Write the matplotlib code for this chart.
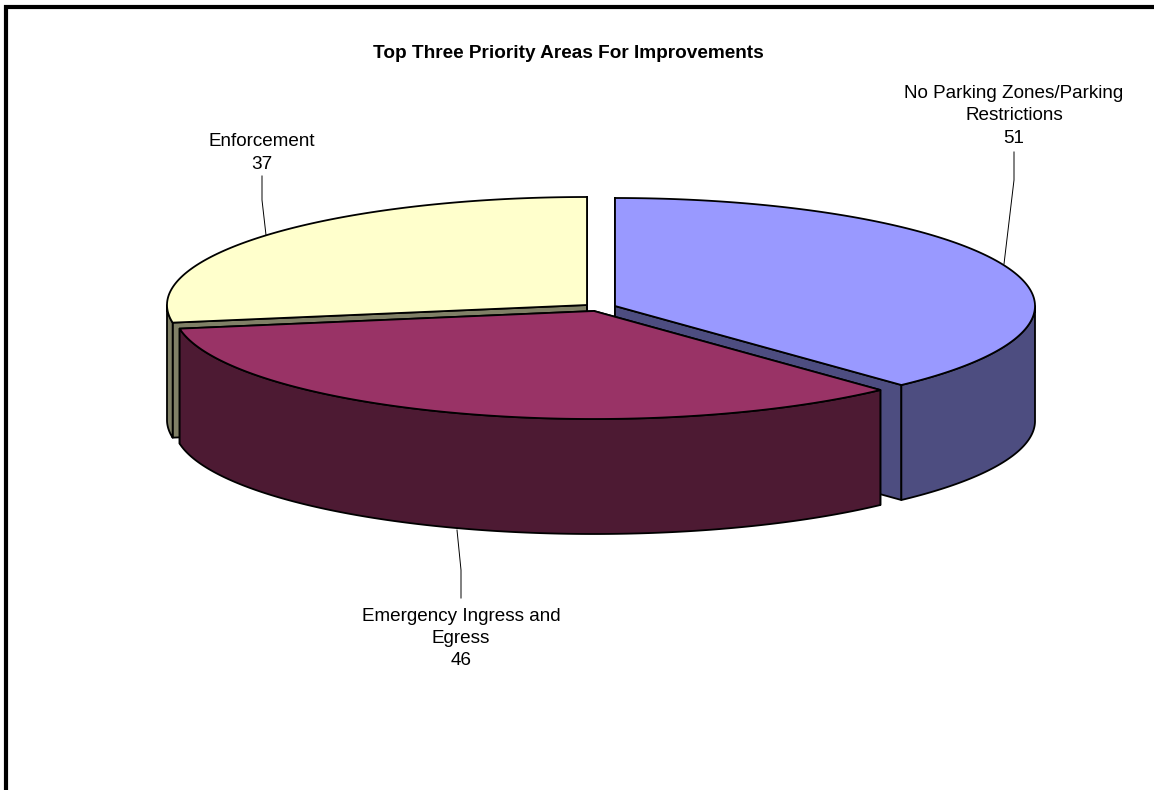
import numpy as np
import matplotlib
matplotlib.use('Agg')
import matplotlib.pyplot as plt
from matplotlib.patches import Polygon

plt.rcParams['font.family'] = ['Liberation Sans', 'DejaVu Sans']

title = 'Top Three Priority Areas For Improvements'
labels = ['No Parking Zones/Parking\nRestrictions', 'Emergency Ingress and\nEgress', 'Enforcement']
values = [51, 46, 37]
top_colors = ['#9999FF', '#993366', '#FFFFCC']
side_colors = ['#4D4D80', '#4D1A33', '#808066']

# pie centre of each exploded slice, in pixels
centers = [(615, 306), (594, 311), (587, 305)]
rx, ry = 420, 108
depth = 115

# label anchor and leader line of each slice
label_pos = [(1014, 116), (461, 638.5), (262, 153)]
leader_x = [[1004, 1014, 1014], [457, 461, 461], [266, 262, 262]]
leader_y = [[264, 180, 152], [530, 570, 598], [235, 200, 176]]


def rim(cx, cy, a0, a1):
    # a0 -> a1 in degrees, going clockwise on the ellipse
    t = np.radians(np.linspace(a0, a1, 200))
    return np.column_stack([cx + rx * np.cos(t), cy - ry * np.sin(t)])


def shape(ax, pts, color, z):
    ax.add_patch(Polygon(pts, closed=True, facecolor=color, edgecolor='black',
                         linewidth=1.3, joinstyle='round', zorder=z))


fig = plt.figure(figsize=(11.54, 7.90), dpi=100, facecolor='white')
ax = fig.add_axes([0, 0, 1, 1])
ax.set_xlim(0, 1154)
ax.set_ylim(790, 0)
ax.axis('off')

# chart frame, cut off by the right and bottom of the picture
ax.plot([6, 6, 1154], [790, 7, 7], color='black', linewidth=3.0,
        solid_joinstyle='miter', solid_capstyle='butt', zorder=1)

fractions = np.array(values) / sum(values)
starts = 90 - 360 * np.concatenate([[0], np.cumsum(fractions)[:-1]])
ends = starts - 360 * fractions

# yellow and blue first, the red slice sits in front of them
for i in [2, 0, 1]:
    cx, cy = centers[i]
    a0, a1 = starts[i], ends[i]
    z = 2 + [2, 0, 1].index(i)
    r = rim(cx, cy, a0, a1)
    down = np.array([0, depth])

    # cut faces
    for a in (a0, a1):
        p = rim(cx, cy, a, a)[0]
        face = [(cx, cy), p, p + down, (cx, cy + depth)]
        shape(ax, face, side_colors[i], z)

    # outer wall, only the part that faces the viewer
    lo, hi = max(a1, -180), min(a0, 0)
    if lo < hi:
        w = rim(cx, cy, hi, lo)
        shape(ax, np.vstack([w, w[::-1] + down]), side_colors[i], z)

    # top
    shape(ax, np.vstack([[(cx, cy)], r]), top_colors[i], z + 0.5)

for i in range(3):
    ax.plot(leader_x[i], leader_y[i], color='black', linewidth=0.7, zorder=6)
    ax.text(label_pos[i][0], label_pos[i][1], labels[i] + '\n' + str(values[i]),
            ha='center', va='center', ma='center', fontsize=13.6, linespacing=1.39, zorder=7)

ax.text(568, 54, title, ha='center', va='center', fontsize=13.7, fontweight='bold', zorder=7)

fig.savefig('out.png', dpi=100, facecolor='white')
